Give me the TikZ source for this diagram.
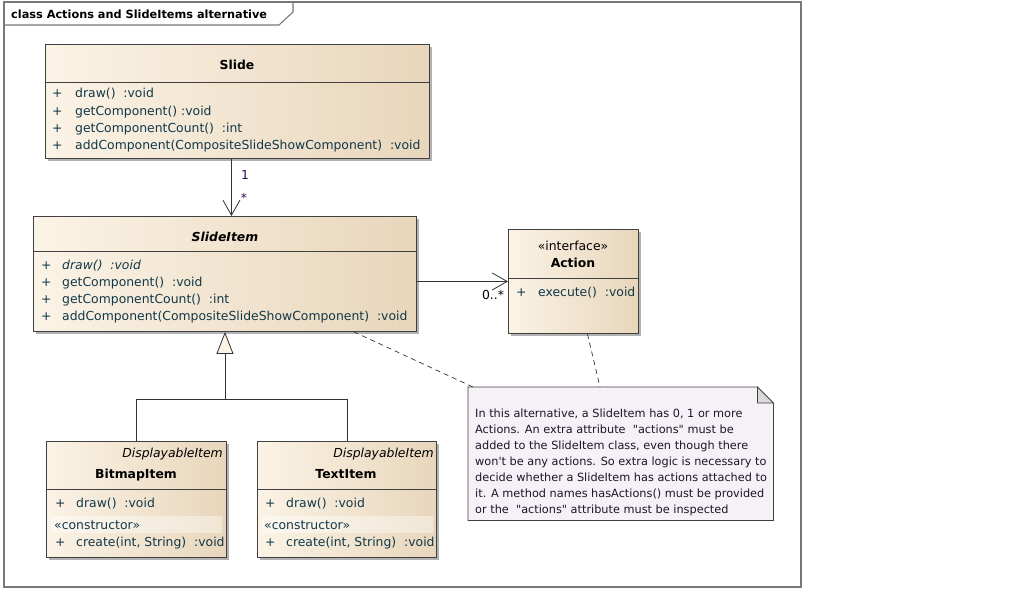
\documentclass[tikz,border=0pt]{standalone}
\usepackage{fontspec}
\setmainfont{DejaVu Sans}
% plain family without TeX ligature mapping, so quotes stay straight
\newfontfamily\plainfont{DejaVu Sans}
\usetikzlibrary{arrows.meta,shadows,calc}

\definecolor{clsborder}{RGB}{64,64,64}
\definecolor{clsleft}{RGB}{251,243,230}
\definecolor{clsmid}{RGB}{246,235,217}
\definecolor{clsright}{RGB}{232,214,187}
\definecolor{feattext}{RGB}{18,56,74}
\definecolor{multcol}{RGB}{50,10,90}
\definecolor{notefill}{RGB}{246,241,246}
\definecolor{notetext}{RGB}{30,20,40}
\definecolor{framecol}{RGB}{120,120,120}
\definecolor{linecol}{RGB}{50,50,50}

\newcommand\umlfont{\fontsize{12.4}{14}\selectfont}

\tikzset{
  umlbox/.style={draw=clsborder, line width=0.9pt, left color=clsleft,
    middle color=clsmid, right color=clsright, inner sep=0pt, anchor=north west,
    drop shadow={shadow xshift=3pt, shadow yshift=-3pt, fill=black, opacity=0.3}},
  sepline/.style={draw=clsborder, line width=0.8pt},
  txt/.style={inner sep=0pt, text height=9pt, text depth=0pt, font=\umlfont},
  feat/.style={txt, text=feattext, anchor=west},
  ctitle/.style={txt, text=black, font=\umlfont\bfseries},
  mult/.style={txt, text=multcol},
  ctorband/.style={fill=white, opacity=0.4},
  link/.style={draw=linecol, line width=0.8pt},
  assoc/.style={link, -{Straight Barb[length=15pt,width=17pt,line width=0.8pt]}},
  generalize/.style={link, -{Triangle[length=22pt,width=17pt,fill=clsleft,line width=0.8pt]}},
  notelink/.style={draw=linecol, line width=0.7pt, dash pattern=on 5pt off 4pt},
}

\begin{document}
\begin{tikzpicture}[x=1pt,y=-1pt]
\useasboundingbox (0,0) rectangle (1030,590);

% diagram frame and its name tab
\draw[framecol, line width=1.2pt] (4,2) rectangle (801,587);
\draw[framecol, line width=1.1pt] (4,2) -- (293,2) -- (293,12) -- (279,25) -- (4,25);
\node[txt, anchor=west, font=\fontsize{11.3}{13}\selectfont\bfseries] (frametitle) at (11,14) {class Actions and SlideItems alternative};

% ---- Slide ----
\node[umlbox, minimum width=384pt, minimum height=114pt] (slide) at (45,44) {};
\draw[sepline] ([yshift=-38pt]slide.north west) -- ([yshift=-38pt]slide.north east);
\node[ctitle] (slidename) at (237,65) {Slide};
\foreach \y/\t [count=\i] in {93/{draw()\ \ :void}, 111/{getComponent()\ :void},
    128/{getComponentCount()\ \ :int}, 145/{addComponent(CompositeSlideShowComponent)\ \ :void}} {
  \node[feat] (slidevis\i) at (52,\y) {+};
  \node[feat] (slideop\i) at (75,\y) {\t};
}

% ---- SlideItem ----
\node[umlbox, minimum width=383pt, minimum height=115pt] (slideitem) at (33,216) {};
\draw[sepline] ([yshift=-35pt]slideitem.north west) -- ([yshift=-35pt]slideitem.north east);
\node[ctitle, font=\umlfont\bfseries\itshape] (slideitemname) at (225,237) {SlideItem};
\foreach \y/\t [count=\i] in {265/{\itshape draw()\ \ :void}, 282/{getComponent()\ \ :void},
    299/{getComponentCount()\ \ :int}, 316/{addComponent(CompositeSlideShowComponent)\ \ :void}} {
  \node[feat] (itemvis\i) at (41,\y) {+};
  \node[feat] (itemop\i) at (62,\y) {\t};
}

% ---- Action ----
\node[umlbox, minimum width=130pt, minimum height=104pt] (action) at (508,229) {};
\draw[sepline] ([yshift=-49pt]action.north west) -- ([yshift=-49pt]action.north east);
\node[txt] (actionst) at (573,246) {«interface»};
\node[ctitle] (actionname) at (573,263) {Action};
\node[feat] (actionvis) at (516,292) {+};
\node[feat] (actionop) at (538,292) {execute()\ \ :void};

% ---- BitmapItem ----
\node[umlbox, minimum width=180pt, minimum height=116pt] (bitmap) at (46,441) {};
\draw[sepline] ([yshift=-48pt]bitmap.north west) -- ([yshift=-48pt]bitmap.north east);
\node[txt, anchor=east, font=\umlfont\itshape] (bitmapparent) at (223,453) {DisplayableItem};
\node[ctitle] (bitmapname) at (136,474) {BitmapItem};
\node[feat] (bitmapvis1) at (55,503) {+};
\node[feat] (bitmapop1) at (76,503) {draw()\ \ :void};
\fill[ctorband] (51,516) rectangle (222,533);
\node[feat] (bitmapctor) at (54,525) {«constructor»};
\node[feat] (bitmapvis2) at (55,542) {+};
\node[feat] (bitmapop2) at (76,542) {create(int, String)\ \ :void};

% ---- TextItem ----
\node[umlbox, minimum width=179pt, minimum height=116pt] (textitem) at (257,441) {};
\draw[sepline] ([yshift=-48pt]textitem.north west) -- ([yshift=-48pt]textitem.north east);
\node[txt, anchor=east, font=\umlfont\itshape] (textparent) at (434,453) {DisplayableItem};
\node[ctitle] (textname) at (346,474) {TextItem};
\node[feat] (textvis1) at (265,503) {+};
\node[feat] (textop1) at (286,503) {draw()\ \ :void};
\fill[ctorband] (262,516) rectangle (433,533);
\node[feat] (textctor) at (264,525) {«constructor»};
\node[feat] (textvis2) at (265,542) {+};
\node[feat] (textop2) at (286,542) {create(int, String)\ \ :void};

% ---- note ----
\node[inner sep=0pt, minimum width=305pt, minimum height=133pt, anchor=north west] (note) at (468,387) {};
\filldraw[fill=notefill, draw=clsborder, line width=0.8pt]
  (note.north west) -- ([xshift=-16pt]note.north east) -- ([yshift=-16pt]note.north east)
  -- (note.south east) -- (note.south west) -- cycle;
\filldraw[fill=black!15, draw=clsborder, line width=0.8pt]
  ([xshift=-16pt]note.north east) -- ([yshift=-16pt]note.north east)
  -- ([xshift=-16pt,yshift=-16pt]note.north east) -- cycle;
\node[inner sep=0pt, anchor=north west, align=left, text=notetext,
      font=\plainfont\fontsize{11.3}{16}\selectfont] (notebody) at (475,409)
  {In this alternative, a SlideItem has 0, 1 or more\\
   Actions. An extra attribute\ \ "actions" must be\\
   added to the SlideItem class, even though there\\
   won't be any actions. So extra logic is necessary to\\
   decide whether a SlideItem has actions attached to\\
   it. A method names hasActions() must be provided\\
   or the\ \ "actions" attribute must be inspected};

% ---- connectors ----
\draw[assoc] ([xshift=-6pt]slide.south) coordinate (aggstart) -- (aggstart |- slideitem.north);
\node[mult] (multone) at (245,175) {1};
\node[mult] (multmany) at (244,198) {*};

\draw[assoc] ([yshift=-7.5pt]slideitem.east) coordinate (actstart) -- (actstart -| action.west);
\node[mult, text=black] (multactions) at (493,295) {0..*};

\path (slideitem.south) ++(0,67) coordinate (genjoin);
\draw[link] (bitmap.north) |- (genjoin) -| (textitem.north);
\draw[generalize] (genjoin) -- (slideitem.south);

\draw[notelink] ([xshift=-63pt]slideitem.south east) -- ([xshift=5pt]note.north west);
\draw[notelink] ([xshift=14pt]action.south) -- ([xshift=132pt]note.north west);
\end{tikzpicture}
\end{document}
